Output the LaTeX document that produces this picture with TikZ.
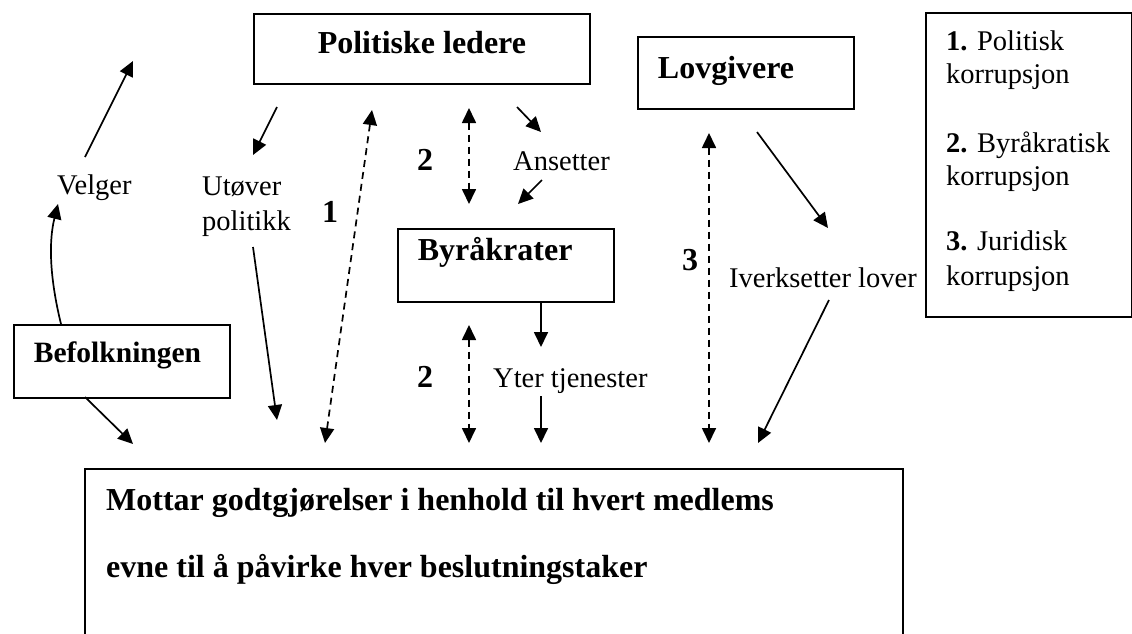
\documentclass[tikz,border=0pt]{standalone}
\usepackage{fontspec}
\setmainfont{Liberation Serif}
\usetikzlibrary{arrows.meta}
\begin{document}
\begin{tikzpicture}[x=1pt,y=-1pt,
  box/.style={draw, line width=1.8pt, inner sep=0pt, anchor=north west},
  bf/.style={font=\fontsize{32}{38}\selectfont\bfseries},
  bfs/.style={font=\fontsize{29.5}{35}\selectfont\bfseries},
  rm/.style={font=\fontsize{28.5}{34}\selectfont},
  lbl/.style={inner sep=0pt, anchor=base west},
  arr/.style={line width=1.7pt, -{Triangle[length=15pt,width=14pt]}},
  darr/.style={line width=1.7pt, dash pattern=on 7pt off 5pt, {Triangle[length=15pt,width=14pt]}-{Triangle[length=15pt,width=14pt]}},
]
\clip (0,0) rectangle (1132,633);

% boxes
\node[box, bf, minimum width=336pt, text height=40pt, text depth=30pt] (pl) at (253,13) {Politiske ledere};
\node[box, bf, text width=176pt, align=left, inner xsep=20pt, text height=42pt, text depth=30pt] (lov) at (637,36) {Lovgivere};
\node[box, bf, text width=176pt, align=left, inner xsep=20pt, text height=32pt, text depth=41pt] (byr) at (397,228) {Byråkrater};
\node[box, bfs, text width=176pt, align=left, inner xsep=20pt, text height=38pt, text depth=35pt] (bef) at (13,324) {Befolkningen};
\node[box, minimum width=818pt, minimum height=250pt] (bot) at (84,468) {};
\node[box, minimum width=206pt, minimum height=304pt] (leg) at (925,12) {};

% bottom box text
\node[lbl, bf] (bt1) at (106,510) {Mottar godtgjørelser i henhold til hvert medlems};
\node[lbl, bf] (bt2) at (106,577) {evne til å påvirke hver beslutningstaker};

% legend text
\node[lbl, rm] (l1a) at (946,50) {{\bfseries 1.} Politisk};
\node[lbl, rm] (l1b) at (946,83) {korrupsjon};
\node[lbl, rm] (l2a) at (946,152) {{\bfseries 2.} Byråkratisk};
\node[lbl, rm] (l2b) at (946,185) {korrupsjon};
\node[lbl, rm] (l3a) at (946,250) {{\bfseries 3.} Juridisk};
\node[lbl, rm] (l3b) at (946,285) {korrupsjon};

% labels
\node[lbl, rm] (velger) at (57,194) {Velger};
\node[lbl, rm] (utover) at (202,195) {Utøver};
\node[lbl, rm] (politikk) at (202,230) {politikk};
\node[lbl, bf] (n1) at (322,222) {1};
\node[lbl, bf] (n2a) at (417,170) {2};
\node[lbl, rm] (ansetter) at (513,170) {Ansetter};
\node[lbl, bf] (n2b) at (417,387) {2};
\node[lbl, rm] (yter) at (493,387) {Yter tjenester};
\node[lbl, bf] (n3) at (682,270) {3};
\node[lbl, rm] (iverk) at (729,287) {Iverksetter lover};

% coordinates
\coordinate (v1) at (85,157);   \coordinate (v2) at (133,61);
\coordinate (c1) at (61,324);   \coordinate (c2) at (58,204);
\coordinate (u1) at (277,107);  \coordinate (u2) at (253,155);
\coordinate (p1) at (253,247);  \coordinate (p2) at (277,420);
\coordinate (d1a) at (372,110); \coordinate (d1b) at (325,443);
\coordinate (d2a) at (469,108); \coordinate (d2b) at (469,204);
\coordinate (a1) at (517,107);  \coordinate (a2) at (541,132);
\coordinate (a3) at (542,180);  \coordinate (a4) at (518,204);
\coordinate (b1) at (541,301);  \coordinate (b2) at (541,347);
\coordinate (d3a) at (469,325); \coordinate (d3b) at (469,443);
\coordinate (y1) at (541,396);  \coordinate (y2) at (541,443);
\coordinate (d4a) at (709,133); \coordinate (d4b) at (709,443);
\coordinate (l1) at (757,132);  \coordinate (l2) at (828,228);
\coordinate (i1) at (829,300);  \coordinate (i2) at (758,443);
\coordinate (f1) at (85,397);   \coordinate (f2) at (133,444);

% connectors
\draw[arr] (v1) -- (v2);
\draw[arr] (c1) .. controls (49,275) and (49,240) .. (c2);
\draw[arr] (u1) -- (u2);
\draw[arr] (p1) -- (p2);
\draw[darr] (d1a) -- (d1b);
\draw[darr] (d2a) -- (d2b);
\draw[arr] (a1) -- (a2);
\draw[arr] (a3) -- (a4);
\draw[arr] (b1) -- (b2);
\draw[darr] (d3a) -- (d3b);
\draw[arr] (y1) -- (y2);
\draw[darr] (d4a) -- (d4b);
\draw[arr] (l1) -- (l2);
\draw[arr] (i1) -- (i2);
\draw[arr] (f1) -- (f2);
\end{tikzpicture}
\end{document}
